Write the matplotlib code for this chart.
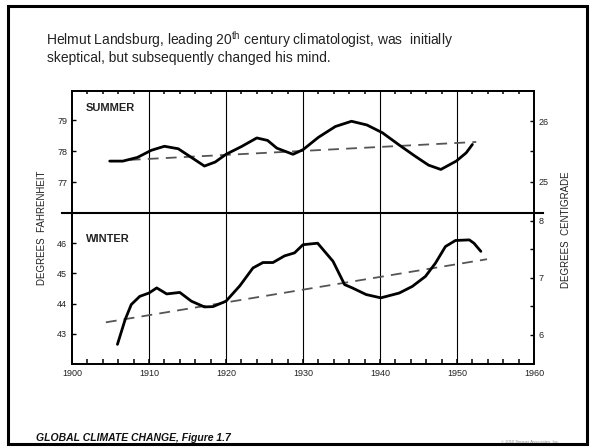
import matplotlib.pyplot as plt
from matplotlib.lines import Line2D
from matplotlib.patches import Rectangle

plt.rcParams['font.family'] = ['Liberation Sans', 'DejaVu Sans']
plt.rcParams['mathtext.fontset'] = 'custom'
plt.rcParams['mathtext.rm'] = 'Liberation Sans'
plt.rcParams['xtick.direction'] = 'in'
plt.rcParams['ytick.direction'] = 'in'
plt.rcParams['xtick.major.size'] = 3.5
plt.rcParams['xtick.minor.size'] = 3.5
plt.rcParams['xtick.major.width'] = 1.1
plt.rcParams['xtick.minor.width'] = 1.1

# Sommer (Grad Fahrenheit)
summer_years = [1904.9, 1906.6, 1908.5, 1910.3, 1912.0, 1913.8, 1915.5, 1917.2, 1918.6,
                1920.0, 1922.0, 1924.0, 1925.4, 1926.6, 1928.7, 1930.0, 1932.0, 1934.2,
                1936.3, 1938.3, 1940.3, 1942.5, 1944.5, 1946.3, 1947.9, 1949.9, 1951.2, 1952.0]
summer_temp = [77.68, 77.68, 77.80, 78.03, 78.16, 78.08, 77.80, 77.52, 77.65,
               77.90, 78.15, 78.43, 78.35, 78.10, 77.90, 78.05, 78.45, 78.80,
               78.97, 78.85, 78.60, 78.20, 77.85, 77.55, 77.41, 77.68, 77.95, 78.22]
summer_trend_years = [1907.5, 1952.5]
summer_trend_temp = [77.72, 78.30]

# Winter (Grad Fahrenheit)
winter_years = [1905.9, 1906.9, 1907.7, 1908.8, 1910.0, 1911.0, 1912.3, 1914.0, 1915.5,
                1917.2, 1918.3, 1920.0, 1921.8, 1923.5, 1924.8, 1926.1, 1927.6, 1928.9,
                1930.0, 1931.9, 1933.9, 1935.4, 1936.4, 1938.2, 1940.1, 1942.5, 1944.2,
                1945.9, 1947.2, 1948.5, 1949.8, 1951.6, 1952.2, 1953.1]
winter_temp = [42.65, 43.47, 43.97, 44.24, 44.35, 44.52, 44.32, 44.37, 44.08,
               43.89, 43.90, 44.08, 44.59, 45.18, 45.36, 45.36, 45.58, 45.68,
               45.95, 46.00, 45.40, 44.63, 44.52, 44.30, 44.19, 44.35, 44.57,
               44.90, 45.34, 45.89, 46.09, 46.11, 46.00, 45.73]
winter_trend_years = [1904.4, 1953.9]
winter_trend_temp = [43.38, 45.47]

x_ticks = [1900, 1910, 1920, 1930, 1940, 1950, 1960]
x_minor = [y for y in range(1902, 1960, 2) if y % 10 != 0]
summer_f_ticks = [77, 78, 79]
summer_c_ticks = [25, 26]
winter_f_ticks = [43, 44, 45, 46]
winter_c_ticks = [6, 7, 8]


def style_axis(ax):
    for sp in ax.spines.values():
        sp.set_linewidth(1.3)
    ax.tick_params(axis='y', direction='in', length=3, width=1)
    ax.tick_params(labelsize=6.5, labelcolor='#222222')
    ax.set_xlim(1900, 1960)
    ax.set_xticks(x_ticks)
    ax.set_xticks(x_minor, minor=True)
    for year in x_ticks[1:-1]:
        ax.axvline(year, color='black', lw=0.8, zorder=1)


fig = plt.figure(figsize=(5.92, 4.47), dpi=100)

# Rahmen um die Folie
fig.patches.append(Rectangle((8 / 592, 1 - 444 / 447), 579 / 592, 438 / 447,
                             transform=fig.transFigure, fill=False, lw=2.2, ec='black'))

fig.text(46 / 592, 1 - 40 / 447,
         'Helmut Landsburg, leading 20$^{\\mathrm{th}}$ century climatologist, was  initially',
         fontsize=10, va='center', color='#222222')
fig.text(47 / 592, 1 - 58 / 447, 'skeptical, but subsequently changed his mind.',
         fontsize=10, va='center', color='#222222')

left, right = 72 / 592, 534 / 592
mid = 1 - 213 / 447
top = 1 - 91 / 447
bottom = 1 - 364 / 447

ax_s = fig.add_axes([left, mid, right - left, top - mid])
ax_w = fig.add_axes([left, bottom, right - left, mid - bottom])

# Sommer-Panel
style_axis(ax_s)
ax_s.plot(summer_years, summer_temp, color='black', lw=2.0, solid_capstyle='round',
          solid_joinstyle='round', zorder=3)
ax_s.plot(summer_trend_years, summer_trend_temp, color='#555555', lw=1.3,
          dashes=(6, 4), zorder=2)
ax_s.set_ylim(76.0, 79.95)
ax_s.set_yticks(summer_f_ticks)
ax_s.spines['bottom'].set_visible(False)
ax_s.tick_params(axis='x', which='both', bottom=False, labelbottom=False)
# Jahres-Striche oben (als kurze Linien am oberen Rand)
ax_s.vlines(x_minor, 0.972, 1.0, transform=ax_s.get_xaxis_transform(),
            color='black', lw=1.1, zorder=6, clip_on=False)
ax_s.text(0.03, 0.86, 'SUMMER', transform=ax_s.transAxes, fontsize=8,
          fontweight='bold', color='#222222', va='center')

ax_s2 = ax_s.twinx()
ax_s2.set_ylim(24.48, 26.5)
ax_s2.set_yticks(summer_c_ticks)
ax_s2.set_yticks([25.5], minor=True)
ax_s2.tick_params(axis='y', which='both', direction='in', length=3, width=1,
                  labelsize=6.5, labelcolor='#222222')
ax_s2.spines['bottom'].set_visible(False)
for sp in ax_s2.spines.values():
    sp.set_linewidth(1.3)

# Winter-Panel
style_axis(ax_w)
ax_w.plot(winter_years, winter_temp, color='black', lw=2.0, solid_capstyle='round',
          solid_joinstyle='round', zorder=3)
ax_w.plot(winter_trend_years, winter_trend_temp, color='#555555', lw=1.3,
          dashes=(6, 4), zorder=2)
ax_w.set_ylim(42.0, 47.0)
ax_w.set_yticks(winter_f_ticks)
ax_w.spines['top'].set_visible(False)
ax_w.tick_params(axis='x', which='both', top=False)
ax_w.text(0.03, 0.83, 'WINTER', transform=ax_w.transAxes, fontsize=8,
          fontweight='bold', color='#222222', va='center')

ax_w2 = ax_w.twinx()
ax_w2.set_ylim(5.49, 8.14)
ax_w2.set_yticks(winter_c_ticks)
ax_w2.set_yticks([6.5, 7.5], minor=True)
ax_w2.tick_params(axis='y', which='both', direction='in', length=3, width=1,
                  labelsize=6.5, labelcolor='#222222')
ax_w2.spines['top'].set_visible(False)
for sp in ax_w2.spines.values():
    sp.set_linewidth(1.3)

# Trennlinie zwischen Sommer und Winter
fig.lines.append(Line2D([62 / 592, 543 / 592], [mid, mid], transform=fig.transFigure,
                        color='black', lw=1.5))

fig.text(42 / 592, 1 - 228 / 447, 'DEGREES  FAHRENHEIT', rotation=90, fontsize=7,
         ha='center', va='center', color='#222222')
fig.text(566 / 592, 1 - 230 / 447, 'DEGREES  CENTIGRADE', rotation=90, fontsize=7,
         ha='center', va='center', color='#222222')

fig.text(36 / 592, 1 - 438 / 447, 'GLOBAL CLIMATE CHANGE, Figure 1.7', fontsize=7.5,
         fontweight='bold', fontstyle='italic', va='center', color='#111111')
fig.text(530 / 592, 1 - 442 / 447, '© 2010 Sinauer Associates, Inc.', fontsize=3,
         ha='center', va='center', color='#888888')

fig.savefig('out.png', dpi=100)
